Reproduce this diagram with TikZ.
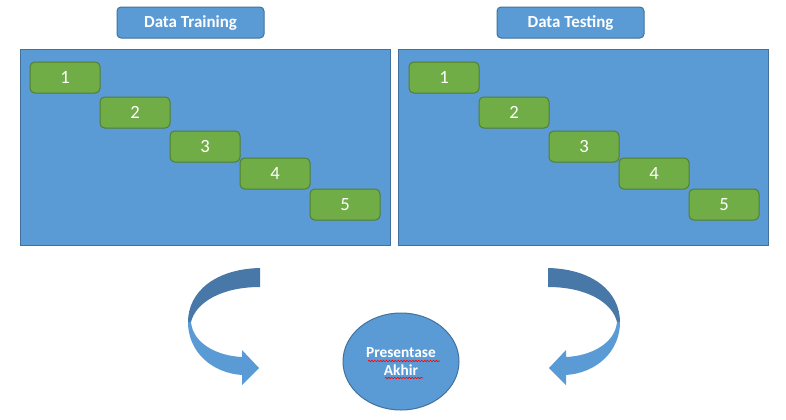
\documentclass[tikz,border=0pt]{standalone}
\usepackage{fontspec}
\setmainfont{Carlito}
\usetikzlibrary{shapes.geometric,decorations.pathmorphing}
\definecolor{panelblue}{HTML}{5B9BD5}
\definecolor{paneledge}{HTML}{41719C}
\definecolor{boxgreen}{HTML}{70AD47}
\definecolor{greenedge}{HTML}{507E32}
\definecolor{arrowdark}{HTML}{4878A8}
\begin{document}
\begin{tikzpicture}[x=0.75pt,y=-0.75pt,
  titlebox/.style={draw=paneledge, fill=panelblue, rounded corners=3pt, line width=0.75pt,
    minimum width=147*0.75pt, minimum height=31*0.75pt, inner sep=0pt, text=white,
    font=\bfseries\fontsize{12.7}{15}\selectfont},
  panel/.style={draw=paneledge, fill=panelblue, line width=0.75pt,
    minimum width=370*0.75pt, minimum height=196*0.75pt, inner sep=0pt},
  stepbox/.style={draw=greenedge, fill=boxgreen, rounded corners=3.5pt, line width=0.75pt,
    minimum width=70*0.75pt, minimum height=31*0.75pt, inner sep=0pt, text=white,
    font=\fontsize{14}{16}\selectfont},
  endnode/.style={ellipse, draw=paneledge, fill=panelblue, line width=0.75pt,
    minimum width=116*0.75pt, minimum height=97*0.75pt, inner sep=0pt, text=white,
    align=center, font=\bfseries\fontsize{11.5}{13.2}\selectfont},
  squiggle/.style={red, line width=0.45pt, decorate,
    decoration={snake, amplitude=0.55pt, segment length=2.2pt}},
  arrowback/.style={fill=arrowdark},
  arrowfront/.style={fill=panelblue}]
\useasboundingbox (0,0) rectangle (786,419);

% titles
\node[titlebox] (ttrain) at (190.5,22.5) {Data Training};
\node[titlebox] (ttest) at (570.5,22.5) {Data Testing};

% panels
\node[panel] (ptrain) at (205,147) {};
\node[panel] (ptest) at (583.5,147) {};

% left steps
\node[stepbox] (l1) at (65,77.5) {1};
\node[stepbox] (l2) at (135,112.5) {2};
\node[stepbox] (l3) at (205,146.5) {3};
\node[stepbox] (l4) at (275,173.5) {4};
\node[stepbox] (l5) at (345,204.5) {5};

% right steps
\node[stepbox] (r1) at (444,77.5) {1};
\node[stepbox] (r2) at (514,112.5) {2};
\node[stepbox] (r3) at (584,146.5) {3};
\node[stepbox] (r4) at (654,173.5) {4};
\node[stepbox] (r5) at (724,204.5) {5};

% left curved arrow
\path[arrowback] (260,268) .. controls (215,269) and (188,292) .. (188,322)
  -- (191,322) .. controls (196,302) and (222,287) .. (260,287) -- cycle;
\path[arrowfront] (188,322) .. controls (188,352) and (212,373) .. (242,375)
  -- (242,385) -- (259,368) -- (242,350) -- (242,357)
  .. controls (218,356) and (193,344) .. (191,322) -- cycle;

% right curved arrow (mirror image)
\path[arrowback] (548,268) .. controls (593,269) and (620,292) .. (620,322)
  -- (617,322) .. controls (612,302) and (586,287) .. (548,287) -- cycle;
\path[arrowfront] (620,322) .. controls (620,352) and (596,373) .. (566,375)
  -- (566,385) -- (549,368) -- (566,350) -- (566,357)
  .. controls (590,356) and (615,344) .. (617,322) -- cycle;

% final ellipse
\node[endnode] (akhir) at (401,361.5) {Presentase\\Akhir};
\coordinate (sq1a) at (368,361);
\coordinate (sq1b) at (440,361);
\coordinate (sq2a) at (385,378);
\coordinate (sq2b) at (423,378);
\draw[squiggle] (sq1a) -- (sq1b);
\draw[squiggle] (sq2a) -- (sq2b);
\end{tikzpicture}
\end{document}
